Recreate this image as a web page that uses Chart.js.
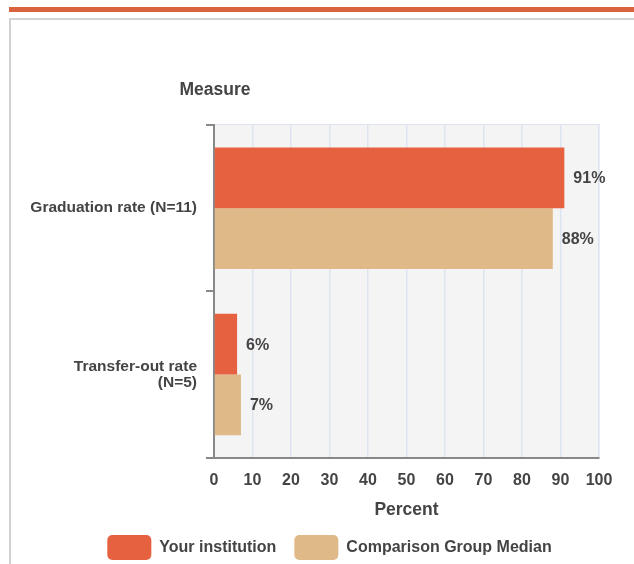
<!DOCTYPE html>
<html lang="en">
<head>
  <meta charset="UTF-8">
  <title>Graduation and transfer-out rates</title>
  <script src="https://cdn.jsdelivr.net/npm/chart.js"></script>
  <style>
    html, body { margin: 0; padding: 0; background: #fff; overflow: hidden; }
    .topbar { position: absolute; left: 9px; top: 7px; right: 0; height: 5px; background: #d9623f; }
    .frame { position: absolute; left: 9px; top: 18px; width: 700px; height: 700px; border: 2px solid #d2d2d2; }
    .chart-box { position: absolute; left: 0; top: 0; width: 634px; height: 564px; }
  </style>
</head>
<body>
  <div class="topbar"></div>
  <div class="frame"></div>
  <div class="chart-box"><canvas id="rateChart" width="634" height="564"></canvas></div>

  <script>
    // chart data
    const measures = ['Graduation rate (N=11)', ['Transfer-out rate', '(N=5)']];
    const yourInstitution = [91, 6];
    const comparisonMedian = [88, 7];
    const percentTicks = [0, 10, 20, 30, 40, 50, 60, 70, 80, 90, 100];

    const textColor = '#444';
    const fontFamily = "'Liberation Sans', Arial, sans-serif";
    Chart.defaults.font.family = fontFamily;
    Chart.defaults.font.weight = 'bold';
    Chart.defaults.color = textColor;

    // grey plot background
    const plotBackground = {
      id: 'plotBackground',
      afterLayout(chart) {
        // legend is centred a bit right of the canvas middle in the original
        chart.legend.left += 20;
        chart.legend.right += 20;
      },
      beforeDraw(chart) {
        const { ctx, chartArea: a } = chart;
        ctx.save();
        ctx.fillStyle = '#f4f4f4';
        ctx.fillRect(a.left, a.top - 1, a.right - a.left + 1, a.bottom - a.top + 1);
        ctx.strokeStyle = '#dde3ef';
        ctx.lineWidth = 1;
        ctx.beginPath();
        ctx.moveTo(a.left, a.top - 0.5);
        ctx.lineTo(a.right + 1, a.top - 0.5);
        ctx.stroke();
        ctx.restore();
      }
    };

    // value labels at the end of each bar, plus the "Measure" heading
    const barLabels = {
      id: 'barLabels',
      afterDatasetsDraw(chart) {
        const { ctx } = chart;
        ctx.save();
        ctx.font = 'bold 16px ' + fontFamily;
        ctx.fillStyle = textColor;
        ctx.textAlign = 'left';
        ctx.textBaseline = 'middle';
        chart.data.datasets.forEach((ds, i) => {
          chart.getDatasetMeta(i).data.forEach((bar, j) => {
            ctx.fillText(ds.data[j] + '%', bar.x + 9, bar.y + 1);
          });
        });
        ctx.font = 'bold 17.5px ' + fontFamily;
        ctx.textAlign = 'center';
        ctx.fillText('Measure', chart.chartArea.left + 1, 90);
        ctx.restore();
      }
    };

    const ctx = document.getElementById('rateChart').getContext('2d');
    const rateChart = new Chart(ctx, {
      type: 'bar',
      data: {
        labels: measures,
        datasets: [{
          label: 'Your institution',
          data: yourInstitution,
          backgroundColor: '#e5613f',
          categoryPercentage: 0.73,
          barPercentage: 1
        }, {
          label: 'Comparison Group Median',
          data: comparisonMedian,
          backgroundColor: '#dfb987',
          categoryPercentage: 0.73,
          barPercentage: 1
        }]
      },
      options: {
        indexAxis: 'y',
        responsive: false,
        animation: false,
        layout: { padding: { top: 125, left: 20, right: 35, bottom: -6 } },
        scales: {
          x: {
            min: 0,
            max: 100,
            afterBuildTicks(scale) {
              scale.ticks = percentTicks.map(v => ({ value: v }));
            },
            grid: { color: '#dde3ef', lineWidth: 1.5, drawTicks: false },
            border: { color: '#888', width: 2 },
            ticks: { font: { size: 16 }, padding: 13 },
            title: {
              display: true,
              text: 'Percent',
              font: { size: 17.5, weight: 'bold' },
              padding: { top: -3, bottom: -4 }
            }
          },
          y: {
            afterFit(scale) { scale.width = 194; },
            grid: { drawOnChartArea: false, color: '#888', lineWidth: 2, tickLength: 8 },
            border: { color: '#888', width: 2 },
            ticks: { font: { size: 15.5, lineHeight: 1.05 }, padding: 9 }
          }
        },
        plugins: {
          legend: {
            position: 'bottom',
            labels: {
              boxWidth: 44,
              boxHeight: 25,
              padding: 18,
              useBorderRadius: true,
              borderRadius: 5,
              font: { size: 16 }
            }
          },
          tooltip: { enabled: false }
        }
      },
      plugins: [plotBackground, barLabels]
    });
  </script>
</body>
</html>
